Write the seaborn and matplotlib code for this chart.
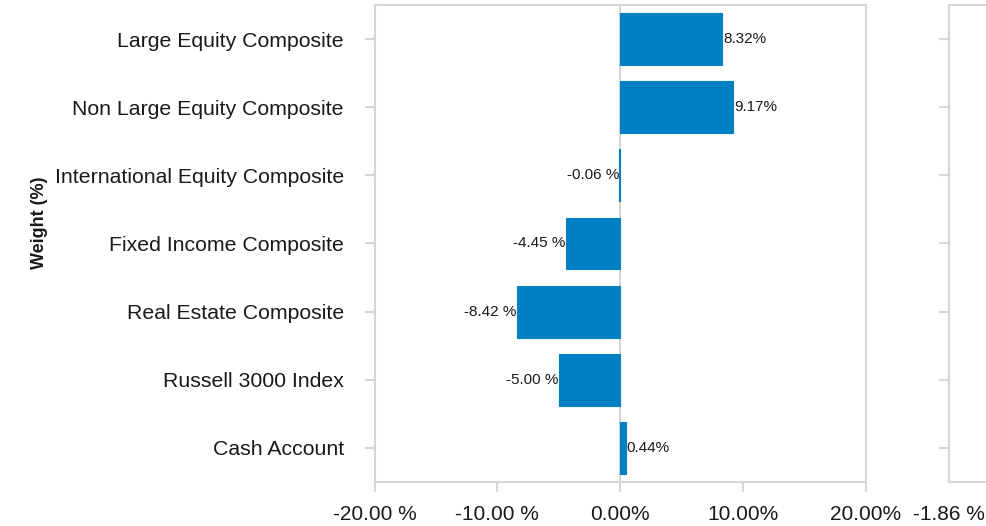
import matplotlib
matplotlib.use("Agg")
import matplotlib.pyplot as plt
import pandas as pd
import seaborn as sns

# Data
categories = ['Large Equity Composite', 'Non Large Equity Composite', 'International Equity Composite',
              'Fixed Income Composite', 'Real Estate Composite', 'Russell 3000 Index', 'Cash Account']
weights = [8.32, 9.17, -0.06, -4.45, -8.42, -5.00, 0.44]
x_ticks = [-20, -10, 0, 10, 20]
x_tick_labels = ['-20.00 %', '-10.00 %', '0.00%', '10.00%', '20.00%']
second_tick = -1.86

df = pd.DataFrame({'category': categories, 'weight': weights})

sns.set_style('white')
plt.rcParams['font.family'] = ['Liberation Sans', 'DejaVu Sans']

grey = '#d6d6d6'
blue = '#0080c3'
txt = '#1a1a1a'

fig = plt.figure(figsize=(9.86, 5.26), dpi=100)
ax = fig.add_axes([0.380, 0.0837, 0.498, 0.9068])
ax2 = fig.add_axes([0.9625, 0.0837, 0.5, 0.9068])

ax.axvline(0, color=grey, lw=1.5, zorder=0)
sns.barplot(data=df, x='weight', y='category', orient='h', color=blue,
            saturation=1, width=0.76, edgecolor=blue, linewidth=0.8, ax=ax, zorder=2)

# value labels
for i, v in enumerate(weights):
    if v >= 0:
        ax.text(v + 0.1, i, f'{v:.2f}%', ha='left', va='center', fontsize=11, color=txt, zorder=3)
    else:
        ax.text(v, i, f'{v:.2f} %', ha='right', va='center', fontsize=11, color=txt, zorder=3)

ax.set_xlim(-20, 20)
ax.set_ylim(6.5, -0.5)
ax.set_xticks(x_ticks)
ax.set_xticklabels(x_tick_labels, fontsize=15, color=txt)
ax.tick_params(axis='y', labelsize=15.3, labelcolor=txt)
ax.set_xlabel('')
ax.set_ylabel('Weight (%)', fontsize=13, fontweight='bold', color=txt)
ax.yaxis.set_label_coords(-0.666, 0.543)

for a in (ax, ax2):
    for s in a.spines.values():
        s.set_color(grey)
        s.set_linewidth(1.5)
    a.tick_params(axis='both', bottom=True, left=True, length=7.2, width=1.5,
                  color=grey, direction='out')
    a.tick_params(axis='x', pad=9.3)
    a.tick_params(axis='y', pad=15)

ax2.set_ylim(6.5, -0.5)
ax2.set_yticks(range(len(categories)))
ax2.set_yticklabels([])
ax2.set_xlim(second_tick, 2)
ax2.set_xticks([second_tick])
ax2.set_xticklabels([f'{second_tick:.2f} %'], fontsize=15, color=txt)
ax2.tick_params(axis='x', length=0, pad=16.5)

fig.savefig('out.png', dpi=100)
